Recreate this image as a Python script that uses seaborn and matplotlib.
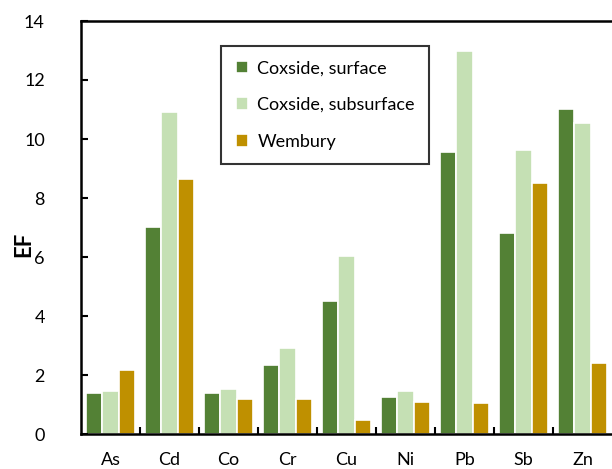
import seaborn as sns
import matplotlib.pyplot as plt
import pandas as pd
from matplotlib.ticker import FixedLocator

elements = ["As", "Cd", "Co", "Cr", "Cu", "Ni", "Pb", "Sb", "Zn"]
series = ["Coxside, surface", "Coxside, subsurface", "Wembury"]
coxside_surface = [1.38, 7.02, 1.38, 2.35, 4.5, 1.27, 9.55, 6.8, 11.0]
coxside_subsurface = [1.47, 10.92, 1.53, 2.93, 6.05, 1.47, 12.97, 9.62, 10.55]
wembury = [2.18, 8.64, 1.18, 1.18, 0.48, 1.1, 1.05, 8.5, 2.42]
colors = ["#538135", "#C5E0B4", "#BF9000"]


def main():
    df = pd.DataFrame({
        "Element": elements * 3,
        "Site": [series[0]] * 9 + [series[1]] * 9 + [series[2]] * 9,
        "EF": coxside_surface + coxside_subsurface + wembury,
    })

    plt.rcParams['font.family'] = ['Lato', 'DejaVu Sans']
    fig = plt.figure(figsize=(6.12, 4.69), dpi=100)
    ax = fig.add_axes([81 / 612, 35 / 469, 531 / 612, 413 / 469])

    sns.barplot(
        data=df, x="Element", y="EF", hue="Site",
        palette=colors, width=0.82, edgecolor="white", linewidth=1.2,
        saturation=1, ax=ax
    )

    ax.set_xlim(-0.5, 8.5)
    ax.set_ylim(0, 14)
    ax.set_yticks(range(0, 15, 2))
    ax.set_xlabel("")
    ax.set_ylabel("EF", fontsize=16, fontweight="bold")
    ax.yaxis.set_label_coords(-0.088, 0.46)

    ax.tick_params(axis="y", direction="in", length=5, width=1.5,
                   labelsize=13, pad=26)
    ax.tick_params(axis="x", which="major", length=0, labelsize=13, pad=13)
    ax.xaxis.set_minor_locator(FixedLocator([i + 0.5 for i in range(8)]))
    ax.tick_params(axis="x", which="minor", direction="in", length=5,
                   width=1.5)

    for side in ["left", "bottom", "top"]:
        ax.spines[side].set_linewidth(1.8)
        ax.spines[side].set_color("black")
    ax.spines["right"].set_visible(False)

    leg = ax.legend(
        loc="upper left", bbox_to_anchor=(0.264, 0.94), fontsize=13,
        frameon=True, fancybox=False, edgecolor="black",
        handlelength=0.7, handleheight=0.7, labelspacing=1.15,
        handletextpad=0.5, borderpad=0.8, borderaxespad=0, title=None
    )
    leg.get_frame().set_linewidth(1.5)

    fig.savefig("out.png", dpi=100)


if __name__ == "__main__":
    main()
